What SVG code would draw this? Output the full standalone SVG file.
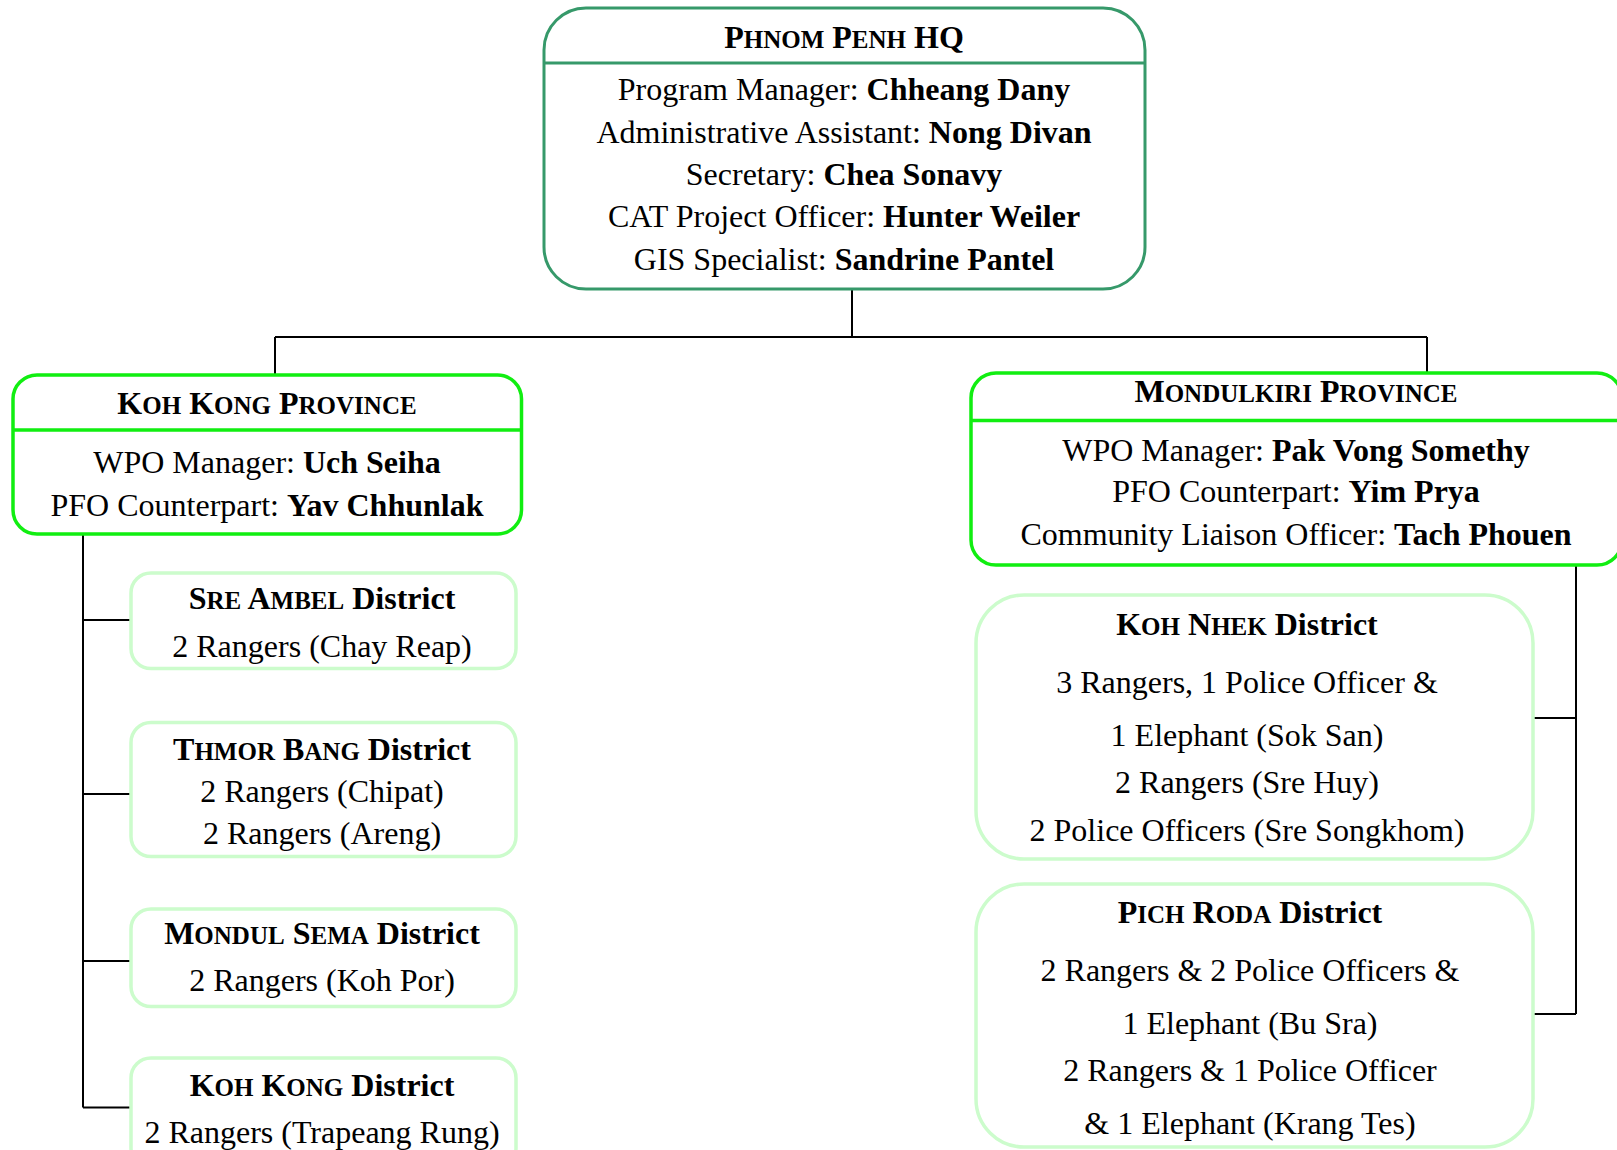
<svg xmlns="http://www.w3.org/2000/svg" width="1617" height="1150" viewBox="0 0 1617 1150">
<style>
text{font-family:"Liberation Serif","Times New Roman",serif;font-size:32px;fill:#000;text-anchor:middle}
.t{font-weight:bold}
.sc{font-size:25px}
.b{font-weight:bold}
.hq{fill:#fff;stroke:#36996a;stroke-width:3}
.hqd{stroke:#36996a;stroke-width:3}
.pv{fill:#fff;stroke:#11ee11;stroke-width:3.5}
.pvd{stroke:#11ee11;stroke-width:3.5}
.ds{fill:#fff;stroke:#ccfccc;stroke-width:3.5}
.c{fill:none;stroke:#000;stroke-width:2}
</style>
<rect width="1617" height="1150" fill="#fff"/>
<g id="connectors">
<path class="c" d="M852 289V337M275 337H1427M275 337V375M1427 337V373"/>
<path class="c" d="M83 534V1107.5M83 620H131M83 794H131M83 961H131M83 1107.5H131"/>
<path class="c" d="M1576 565V1014M1533 718H1576M1530 1014H1576"/>
</g>
<g id="hq">
<rect class="hq" x="544" y="8" width="601" height="281" rx="42"/>
<line class="hqd" x1="544" y1="63" x2="1145" y2="63"/>
<text class="t" x="844" y="47.5">P<tspan class="sc">HNOM</tspan> P<tspan class="sc">ENH</tspan> HQ</text>
<text x="844" y="100">Program Manager: <tspan class="b">Chheang Dany</tspan></text>
<text x="844" y="143">Administrative Assistant: <tspan class="b">Nong Divan</tspan></text>
<text x="844" y="185">Secretary: <tspan class="b">Chea Sonavy</tspan></text>
<text x="844" y="227">CAT Project Officer: <tspan class="b">Hunter Weiler</tspan></text>
<text x="844" y="269.5">GIS Specialist: <tspan class="b">Sandrine Pantel</tspan></text>
</g>
<g id="koh-kong-province">
<rect class="pv" x="13" y="375" width="508.5" height="159" rx="24"/>
<line class="pvd" x1="13" y1="430" x2="521.5" y2="430"/>
<text class="t" x="267" y="414">K<tspan class="sc">OH</tspan> K<tspan class="sc">ONG</tspan> P<tspan class="sc">ROVINCE</tspan></text>
<text x="267" y="472.5">WPO Manager: <tspan class="b">Uch Seiha</tspan></text>
<text x="267" y="515.5">PFO Counterpart: <tspan class="b">Yav Chhunlak</tspan></text>
</g>
<g id="mondulkiri-province">
<rect class="pv" x="971" y="373" width="651" height="192" rx="25"/>
<line class="pvd" x1="971" y1="420.5" x2="1622" y2="420.5"/>
<text class="t" x="1296" y="402">M<tspan class="sc">ONDULKIRI</tspan> P<tspan class="sc">ROVINCE</tspan></text>
<text x="1296" y="460.5">WPO Manager: <tspan class="b">Pak Vong Somethy</tspan></text>
<text x="1296" y="502">PFO Counterpart: <tspan class="b">Yim Prya</tspan></text>
<text x="1296" y="545">Community Liaison Officer: <tspan class="b">Tach Phouen</tspan></text>
</g>
<g id="sre-ambel">
<rect class="ds" x="131" y="573" width="385" height="95.5" rx="20"/>
<text class="t" x="322" y="609">S<tspan class="sc">RE</tspan> A<tspan class="sc">MBEL</tspan> District</text>
<text x="322" y="656.5">2 Rangers (Chay Reap)</text>
</g>
<g id="thmor-bang">
<rect class="ds" x="131" y="722.5" width="385" height="134" rx="20"/>
<text class="t" x="322" y="760">T<tspan class="sc">HMOR</tspan> B<tspan class="sc">ANG</tspan> District</text>
<text x="322" y="802">2 Rangers (Chipat)</text>
<text x="322" y="843.5">2 Rangers (Areng)</text>
</g>
<g id="mondul-sema">
<rect class="ds" x="131" y="909" width="385" height="97.5" rx="20"/>
<text class="t" x="322" y="944">M<tspan class="sc">ONDUL</tspan> S<tspan class="sc">EMA</tspan> District</text>
<text x="322" y="991">2 Rangers (Koh Por)</text>
</g>
<g id="koh-kong-district">
<rect class="ds" x="131" y="1058" width="385" height="110" rx="20"/>
<text class="t" x="322" y="1096">K<tspan class="sc">OH</tspan> K<tspan class="sc">ONG</tspan> District</text>
<text x="322" y="1143">2 Rangers (Trapeang Rung)</text>
</g>
<g id="koh-nhek">
<rect class="ds" x="976" y="595" width="557" height="264" rx="48"/>
<text class="t" x="1247" y="635">K<tspan class="sc">OH</tspan> N<tspan class="sc">HEK</tspan> District</text>
<text x="1247" y="693">3 Rangers, 1 Police Officer &amp;</text>
<text x="1247" y="746">1 Elephant (Sok San)</text>
<text x="1247" y="793">2 Rangers (Sre Huy)</text>
<text x="1247" y="840.5">2 Police Officers (Sre Songkhom)</text>
</g>
<g id="pich-roda">
<rect class="ds" x="976" y="884" width="557" height="263" rx="48"/>
<text class="t" x="1250" y="923">P<tspan class="sc">ICH</tspan> R<tspan class="sc">ODA</tspan> District</text>
<text x="1250" y="981">2 Rangers &amp; 2 Police Officers &amp;</text>
<text x="1250" y="1034">1 Elephant (Bu Sra)</text>
<text x="1250" y="1081">2 Rangers &amp; 1 Police Officer</text>
<text x="1250" y="1134">&amp; 1 Elephant (Krang Tes)</text>
</g>
</svg>
